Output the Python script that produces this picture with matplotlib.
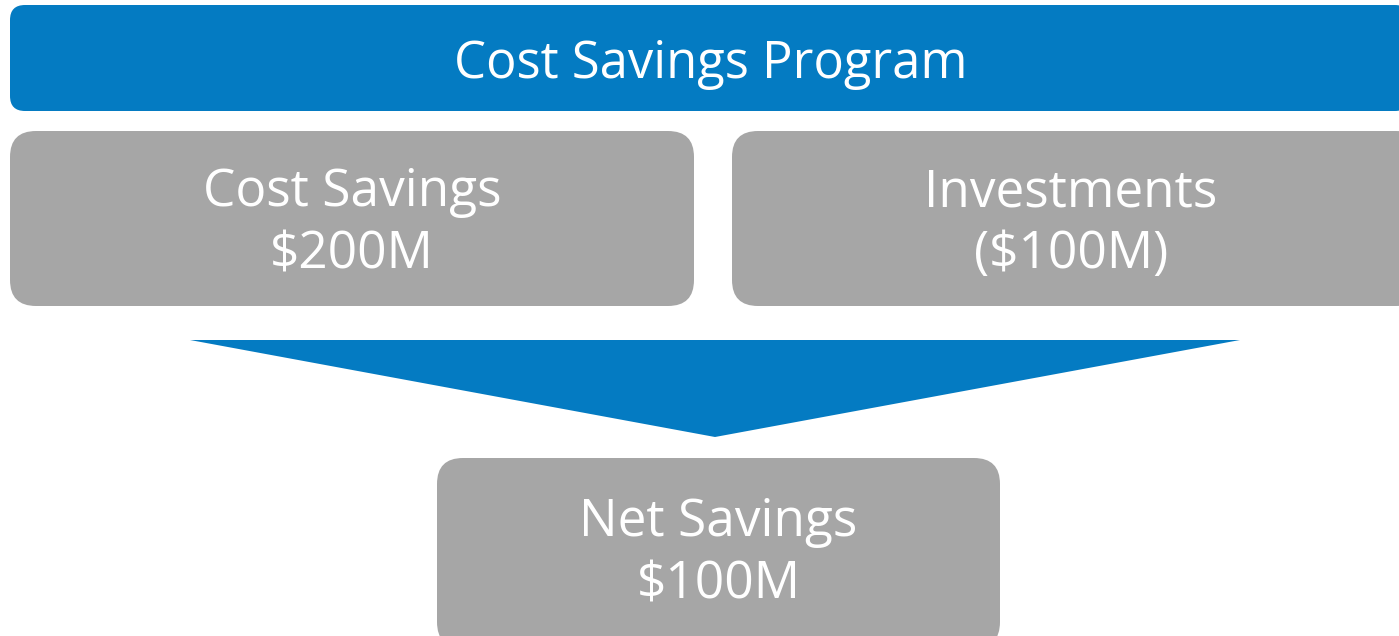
import matplotlib.pyplot as plt
from matplotlib.patches import FancyBboxPatch, Polygon

plt.rcParams["font.family"] = ["Open Sans", "DejaVu Sans"]

BLUE = "#047bc2"
GRAY = "#a6a6a6"

title = "Cost Savings Program"
box_labels = ["Cost Savings", "Investments", "Net Savings"]
box_values = ["$200M", "($100M)", "$100M"]

# box layout in pixels: (x0, y0, width, height)
boxes = [(10, 131, 684, 175), (732, 131, 690, 175), (437, 458, 563, 190)]
text_y = [(193, 255), (193, 255), (523, 585)]

fig = plt.figure(figsize=(13.99, 6.36), dpi=100)
ax = fig.add_axes([0, 0, 1, 1])
ax.set_xlim(0, 1399)
ax.set_ylim(636, 0)
ax.axis("off")

# banner
ax.add_patch(FancyBboxPatch((10, 5), 1400, 106,
                            boxstyle="round,pad=0,rounding_size=15",
                            fc=BLUE, ec="none"))
ax.text(711, 64, title, color="white", fontsize=36.5, ha="center", va="center")

for (x0, y0, w, h), lab, val, (ty1, ty2) in zip(boxes, box_labels, box_values, text_y):
    ax.add_patch(FancyBboxPatch((x0, y0), w, h,
                                boxstyle="round,pad=0,rounding_size=26",
                                fc=GRAY, ec="none"))
    cx = x0 + w / 2 if x0 < 700 else 1071
    ax.text(cx, ty1, lab, color="white", fontsize=37, ha="center", va="center")
    ax.text(cx, ty2, val, color="white", fontsize=37, ha="center", va="center")

# funnel arrow
ax.add_patch(Polygon([(190, 340), (1240, 340), (715, 437)], closed=True,
                     fc=BLUE, ec="none"))

fig.savefig("out.png", dpi=100)
